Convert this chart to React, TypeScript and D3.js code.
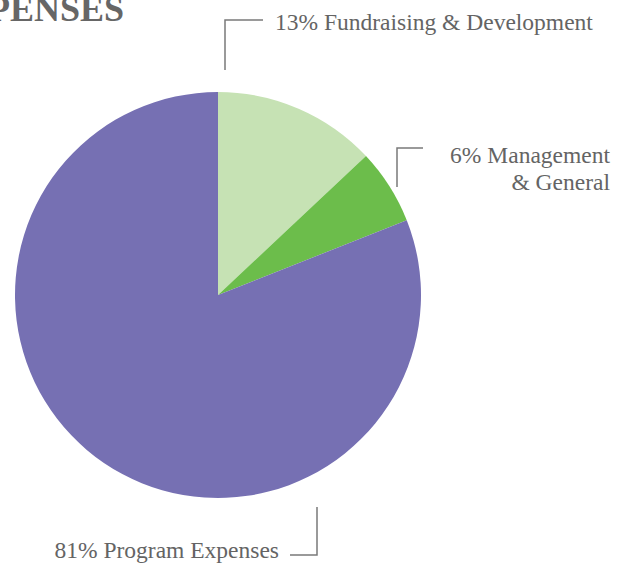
import React from "react";
import * as d3 from "d3";

const categories = ["Fundraising & Development", "Management & General", "Program Expenses"];
const values = [13, 6, 81];
const colors = ["#c6e2b4", "#6cbd4b", "#7670b3"];
const labelLines = [["13% Fundraising & Development"], ["6% Management", "& General"], ["81% Program Expenses"]];

const W = 628;
const H = 565;
const cx = 218;
const cy = 295;
const R = 203;

export default function App() {
  const pie = d3.pie<number>().sort(null).value((d) => d);
  const arcs = pie(values);
  const arc = d3.arc<d3.PieArcDatum<number>>().innerRadius(0).outerRadius(R);
  const font = "'Liberation Serif', 'Times New Roman', serif";
  const textColor = "#646464";
  const lineColor = "#7a7a7a";
  return (
    <svg
      width={W}
      height={H}
      style={{ position: "absolute", left: 0, top: 0, background: "#fff" }}
    >
      <text x={124} y={21} textAnchor="end" fontFamily={font} fontWeight="bold" fontSize={36} fill="#666">
        EXPENSES
      </text>
      <g transform={`translate(${cx},${cy})`}>
        {arcs.map((a, i) => (
          <path key={categories[i]} d={arc(a) || ""} fill={colors[i]} />
        ))}
      </g>
      {/* leader lines */}
      <path d="M225,70 V20 H263" fill="none" stroke={lineColor} strokeWidth={1.5} />
      <path d="M397,187 V148 H423" fill="none" stroke={lineColor} strokeWidth={1.5} />
      <path d="M290,555 H317 V507" fill="none" stroke={lineColor} strokeWidth={1.5} />
      <g fontFamily={font} fontSize={23.5} fill={textColor}>
        <text x={275} y={30}>{labelLines[0][0]}</text>
        <text x={610} y={163} textAnchor="end">{labelLines[1][0]}</text>
        <text x={610} y={190} textAnchor="end">{labelLines[1][1]}</text>
        <text x={279} y={558} textAnchor="end">{labelLines[2][0]}</text>
      </g>
    </svg>
  );
}
